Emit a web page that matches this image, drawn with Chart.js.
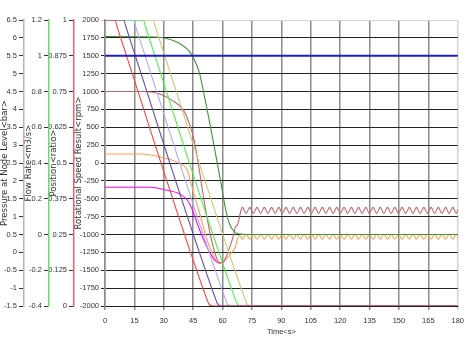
<!DOCTYPE html>
<html>
<head>
<meta charset="utf-8">
<script src="https://cdn.jsdelivr.net/npm/chart.js@4.4.0/dist/chart.umd.min.js"></script>
<style>
  html, body { margin: 0; padding: 0; background: #fff; }
  #wrap { width: 470px; height: 353px; }
</style>
</head>
<body>
<div id="wrap"><canvas id="chart" width="470" height="353"></canvas></div>
<script>
// axis ticks
const timeTicks = [0, 15, 30, 45, 60, 75, 90, 105, 120, 135, 150, 165, 180];
const speedTicks = [-2000, -1750, -1500, -1250, -1000, -750, -500, -250, 0, 250, 500, 750, 1000, 1250, 1500, 1750, 2000];
const positionTicks = [0, 0.125, 0.25, 0.375, 0.5, 0.625, 0.75, 0.875, 1];
const flowTicks = [-0.4, -0.2, 0, 0.2, 0.4, 0.6, 0.8, 1, 1.2];
const pressureTicks = [-1.5, -1, -0.5, 0, 0.5, 1, 1.5, 2, 2.5, 3, 3.5, 4, 4.5, 5, 5.5, 6, 6.5];

// series (time in s, value read against the rpm scale)
const blueT = [0, 180];
const blueV = [1500, 1500];

const redT = [0, 5, 6.5, 51, 53, 55, 180];
const redV = [2000, 2000, 1875, -1830, -1970, -2000, -2000];

const purpleT = [0, 9.5, 11, 55.5, 57.5, 59.5, 180];
const purpleV = [2000, 2000, 1875, -1830, -1970, -2000, -2000];

const lightBlueT = [0, 14.5, 16, 60.5, 62.5, 64.5, 180];
const lightBlueV = [2000, 2000, 1875, -1830, -1970, -2000, -2000];

const limeT = [0, 19.5, 21, 65.5, 67.5, 69.5, 180];
const limeV = [2000, 2000, 1875, -1830, -1970, -2000, -2000];

const khakiT = [0, 24.5, 26, 70.5, 72.5, 74.5, 180];
const khakiV = [2000, 2000, 1875, -1830, -1970, -2000, -2000];

const darkGreenT = [0, 25, 32, 38, 43, 46, 48, 51, 54, 57, 59.5, 61.5, 63.5, 66, 69, 72, 180];
const darkGreenV = [1770, 1762, 1738, 1674, 1560, 1420, 1277, 900, 480, 40, -330, -640, -850, -960, -995, -1000, -1000];

const darkRedT = [0, 20, 28, 34, 40, 43, 45.5, 47, 49, 51, 53, 55, 57, 58.5, 60, 62, 64, 65.5, 66.5, 67.5, 68.3, 69.2];
const darkRedV = [1000, 1000, 965, 880, 740, 555, 320, 90, -250, -600, -900, -1150, -1330, -1395, -1390, -1300, -1150, -1020, -900, -870, -800, -680];

const orangeT = [0, 19, 23, 31, 38, 42, 44, 46.3, 48.8, 51.3, 54, 56.5, 58.8, 61, 63.5, 66.3, 68.5];
const orangeV = [125, 125, 111, 65, -5, -98, -300, -518, -752, -1008, -1220, -1350, -1400, -1370, -1290, -1190, -1010];

const magentaT = [0, 23, 31, 38, 42, 44.5, 46.5, 48.5, 50.5, 53, 55.5, 58, 59];
const magentaV = [-340, -340, -378, -430, -518, -650, -800, -950, -1080, -1230, -1340, -1400, -1405];

// steady oscillation after ~70 s
const waveT = [70.2, 72.0, 73.9, 75.7, 77.6, 79.4, 81.3, 83.1, 85.0, 86.8,
  88.7, 90.5, 92.4, 94.2, 96.1, 97.9, 99.8, 101.6, 103.5, 105.3,
  107.2, 109.0, 110.9, 112.7, 114.6, 116.4, 118.3, 120.1, 122.0, 123.8,
  125.7, 127.5, 129.4, 131.2, 133.1, 134.9, 136.8, 138.6, 140.5, 142.3,
  144.2, 146.0, 147.9, 149.7, 151.6, 153.4, 155.3, 157.1, 159.0, 160.8,
  162.7, 164.5, 166.4, 168.2, 170.1, 171.9, 173.8, 175.6, 177.5, 179.3, 180];
const darkRedWaveV = [-620, -705, -620, -705, -620, -705, -620, -705, -620, -705,
  -620, -705, -620, -705, -620, -705, -620, -705, -620, -705,
  -620, -705, -620, -705, -620, -705, -620, -705, -620, -705,
  -620, -705, -620, -705, -620, -705, -620, -705, -620, -705,
  -620, -705, -620, -705, -620, -705, -620, -705, -620, -705,
  -620, -705, -620, -705, -620, -705, -620, -705, -620, -705, -650];
const orangeWaveV = [-1065, -995, -1065, -995, -1065, -995, -1065, -995, -1065, -995,
  -1065, -995, -1065, -995, -1065, -995, -1065, -995, -1065, -995,
  -1065, -995, -1065, -995, -1065, -995, -1065, -995, -1065, -995,
  -1065, -995, -1065, -995, -1065, -995, -1065, -995, -1065, -995,
  -1065, -995, -1065, -995, -1065, -995, -1065, -995, -1065, -995,
  -1065, -995, -1065, -995, -1065, -995, -1065, -995, -1065, -995, -1030];

function pts(t, v) {
  return t.map((x, i) => ({ x: x, y: v[i] }));
}

function line(label, t, v, color, w) {
  return {
    label: label,
    data: pts(t, v),
    borderColor: color,
    borderWidth: w || 1.1,
    pointRadius: 0,
    fill: false,
    cubicInterpolationMode: "monotone",
    yAxisID: "y",
  };
}

const tickFont = { family: "'Liberation Sans', Arial, sans-serif", size: 7.5 };
const titleFont = { family: "'DejaVu Sans', sans-serif", size: 8.5 };

function sideAxis(ticks, min, max, title, lineColor, width, titlePad) {
  return {
    type: "linear",
    position: "left",
    min: min,
    max: max,
    afterBuildTicks: (s) => { s.ticks = ticks.map((v) => ({ value: v })); },
    afterFit: (s) => { s.width = width; },
    grid: { drawOnChartArea: false, drawTicks: true, tickLength: 5, color: "#333" },
    border: { color: lineColor, width: 1.5 },
    ticks: { font: tickFont, color: "#333", padding: 2, autoSkip: false, callback: (v) => String(v) },
    title: { display: true, text: title, font: titleFont, color: "#333", padding: { top: titlePad, bottom: 0 } },
  };
}

new Chart(document.getElementById("chart"), {
  type: "line",
  data: {
    datasets: [
      line("blue", blueT, blueV, "#1c1cc8", 2),
      line("red", redT, redV, "#ff4040"),
      line("purple", purpleT, purpleV, "#6a46aa"),
      line("light blue", lightBlueT, lightBlueV, "#aaaaff"),
      line("lime", limeT, limeV, "#4cf04c"),
      line("khaki", khakiT, khakiV, "#c8c878"),
      line("dark green", darkGreenT, darkGreenV, "#3c963c"),
      line("dark red", darkRedT.concat(waveT), darkRedV.concat(darkRedWaveV), "#c4646e"),
      line("orange", orangeT.concat(waveT), orangeV.concat(orangeWaveV), "#ffa050"),
      line("magenta", magentaT, magentaV, "#ff00ff"),
    ],
  },
  options: {
    responsive: false,
    animation: false,
    layout: { padding: { left: 0, right: 6, top: 20, bottom: 17 } },
    plugins: { legend: { display: false }, tooltip: { enabled: false } },
    scales: {
      x: {
        type: "linear",
        min: 0,
        max: 180,
        afterBuildTicks: (s) => { s.ticks = timeTicks.map((v) => ({ value: v })); },
        afterFit: (s) => { s.height = 30; },
        grid: {
          color: (ctx) => (ctx.tick && ctx.tick.value === 180 ? "#d4d4d4" : "#8c8c8c"),
          lineWidth: 1.5,
          tickLength: 4,
        },
        border: { color: "#222", width: 1 },
        ticks: { font: tickFont, color: "#333", padding: 6, maxRotation: 0, autoSkip: false },
        title: { display: true, text: "Time<s>", font: tickFont, color: "#333", padding: 0 },
      },
      y: {
        type: "linear",
        position: "left",
        min: -2000,
        max: 2000,
        afterBuildTicks: (s) => { s.ticks = speedTicks.map((v) => ({ value: v })); },
        afterFit: (s) => { s.width = 31; },
        grid: {
          color: (ctx) => (ctx.tick && ctx.tick.value === 2000 ? "#d4d4d4" : "#222"),
          lineWidth: 1,
          tickLength: 4,
        },
        border: { color: "#8c8c8c", width: 1.5 },
        ticks: { font: tickFont, color: "#333", padding: 2, autoSkip: false, callback: (v) => String(v) },
        title: { display: true, text: "Rotational Speed Result<rpm>", font: titleFont, color: "#333", padding: { top: 0, bottom: 0 } },
      },
      yPos: sideAxis(positionTicks, 0, 1, "Position<ratio>", "#ff5a6e", 25, 0),
      yFlow: sideAxis(flowTicks, -0.4, 1.2, "Flow Rate<m3/s>", "#78d278", 25, 0),
      yPress: sideAxis(pressureTicks, -1.5, 6.5, "Pressure at Node Level<bar>", "#d7aaaf", 24, 0),
    },
  },
});
</script>
</body>
</html>
